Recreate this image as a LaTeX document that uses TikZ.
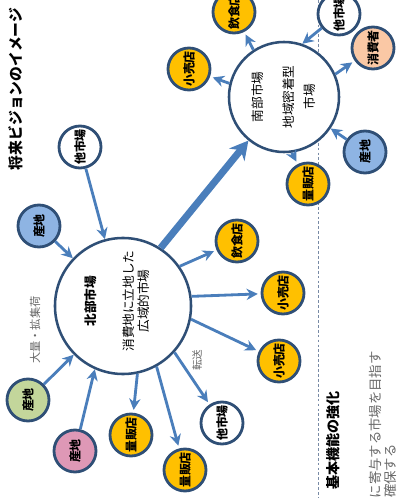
\documentclass[tikz,border=0pt]{standalone}
\usepackage{fontspec}
\setmainfont{Noto Sans CJK JP}
\usetikzlibrary{arrows.meta}
\definecolor{rimblue}{RGB}{47,79,118}
\definecolor{arrblue}{RGB}{74,126,187}
\definecolor{shopyel}{RGB}{255,192,0}
\definecolor{farmblue}{RGB}{142,180,227}
\definecolor{farmgreen}{RGB}{195,214,155}
\definecolor{farmpink}{RGB}{222,152,182}
\definecolor{peach}{RGB}{250,200,165}
\definecolor{notegray}{RGB}{105,105,105}
\definecolor{sepgray}{RGB}{120,138,165}
\begin{document}
\begin{tikzpicture}[x=0.025cm, y=-0.025cm, >={Stealth[length=8pt,width=8pt]},
  shop/.style={circle, draw=rimblue, line width=2pt, minimum size=1.05cm, inner sep=0pt, rotate=90, font=\fontsize{8.5}{9}\selectfont\bfseries},
  market/.style={circle, draw=rimblue, line width=1.8pt, fill=white},
  flow/.style={->, draw=arrblue, line width=2pt},
  tag/.style={rotate=90, inner sep=0pt, text=notegray, font=\fontsize{7.5}{8}\selectfont}]
\path[use as bounding box, clip] (0,0) rectangle (396,498);
\draw[sepgray, line width=.6pt, dash pattern=on 2pt off 1.5pt] (318,0) -- (318,498);
% 市場
\node[market, minimum size=3.4cm] (north) at (123,306) {};
\node[market, minimum size=2.75cm] (south) at (284,97) {};
\node[rotate=90, align=center, font=\fontsize{9}{10.6}\selectfont] (northtxt) at (117,301) {{\bfseries 北部市場}\\[16pt]消費地に立地した\\広域的市場};
\node[rotate=90, align=center, font=\fontsize{9}{15}\selectfont] (southtxt) at (284,97) {南部市場\\[7pt]地域密着型\\市場};
% 周りの円
\node[shop, fill=shopyel] (kouriA) at (189,69) {小売店};
\node[shop, fill=shopyel] (inshokuA) at (234,12) {飲食店};
\node[shop, fill=white] (tashiB) at (339,14) {他市場};
\node[shop, fill=peach] (shohi) at (373,48) {消費者};
\node[shop, fill=farmblue] (sanchiC) at (365,152) {産地};
\node[shop, fill=shopyel] (ryohanC) at (308,184) {量販店};
\node[shop, fill=white] (tashiA) at (80,147) {他市場};
\node[shop, fill=farmblue] (sanchiA) at (39,226) {産地};
\node[shop, fill=shopyel] (inshokuB) at (237,241) {飲食店};
\node[shop, fill=shopyel] (kouriB) at (283,293) {小売店};
\node[shop, fill=shopyel] (kouriC) at (279,361) {小売店};
\node[shop, fill=white] (tashiC) at (222,423) {他市場};
\node[shop, fill=farmgreen] (sanchiG) at (28,400) {産地};
\node[shop, fill=farmpink] (sanchiP) at (75,451) {産地};
\node[shop, fill=shopyel] (ryohanA) at (131,435) {量販店};
\node[shop, fill=shopyel] (ryohanB) at (185,470) {量販店};
% 矢印
\draw[flow] (tashiA) -- (north);
\draw[flow] (sanchiA) -- (north);
\draw[flow] (sanchiG) -- (north);
\draw[flow] (sanchiP) -- (north.246);
\draw[flow, shorten >=2pt] (north.-78) -- (ryohanA);
\draw[flow, shorten >=2pt] (north.-61) -- (ryohanB);
\draw[flow, shorten >=2pt] (north.-42) -- (tashiC);
\draw[flow, shorten >=2pt] (north.-11) -- (kouriC);
\draw[flow, shorten >=2pt] (north.8) -- (kouriB);
\draw[flow, shorten >=2pt] (north.35) -- (inshokuB);
\draw[flow, line width=5pt, -{Stealth[length=13pt,width=14pt]}] (north.57) -- (south);
\draw[flow, shorten >=2pt] (south.166) -- (kouriA);
\draw[flow, shorten >=2pt] (south.123) -- (inshokuA);
\draw[flow] (tashiB) -- (south.71);
\draw[flow, shorten >=2pt] (south.24) -- (shohi);
\draw[flow] (sanchiC) -- (south.-34);
\draw[flow, shorten >=2pt] (south.-82) -- (ryohanC);
% 文字
\node[tag, font=\fontsize{8}{9}\selectfont] (shuka) at (35,330) {大量・拡集荷};
\node[tag] (tenso) at (197,360) {転送};
\node[rotate=90, font=\fontsize{10.5}{12}\selectfont\bfseries] (title) at (16,89) {将来ビジョンのイメージ};
\node[rotate=90, anchor=east, inner sep=0pt, font=\fontsize{10}{12}\selectfont\bfseries] (kihon) at (333,391) {基本機能の強化};
\node[rotate=90, anchor=east, inner sep=0pt, text=notegray, font=\fontsize{9.5}{11}\selectfont] (mezasu) at (375,351) {に寄与する市場を目指す};
\node[rotate=90, anchor=east, inner sep=0pt, text=notegray, font=\fontsize{9.5}{11}\selectfont] (kakuho) at (390,444) {を確保する};
\end{tikzpicture}
\end{document}
